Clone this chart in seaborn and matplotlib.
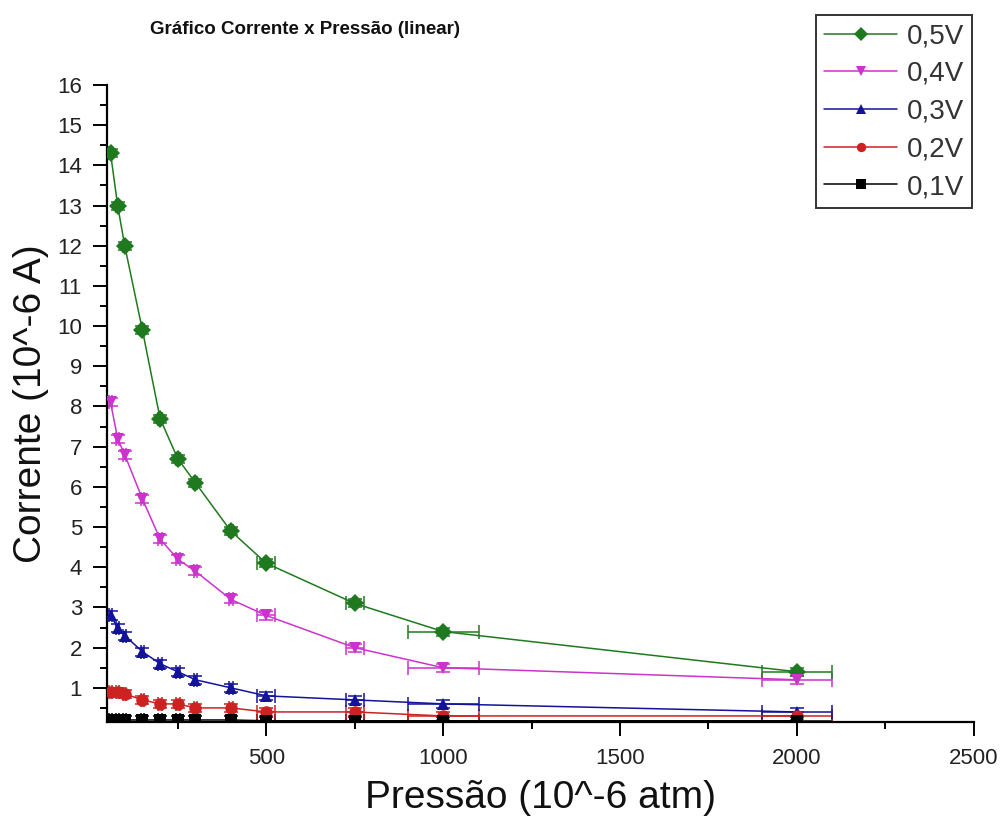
import numpy as np
import pandas as pd
import matplotlib
matplotlib.use("Agg")
import matplotlib.pyplot as plt
from matplotlib.ticker import MultipleLocator
import seaborn as sns

# ---- data ----
pressure = [60, 80, 100, 150, 200, 250, 300, 400, 500, 750, 1000, 2000]
pressure_err = [5, 5, 5, 5, 5, 5, 5, 5, 25, 25, 100, 100]
i_05 = [14.3, 13.0, 12.0, 9.9, 7.7, 6.7, 6.1, 4.9, 4.1, 3.1, 2.4, 1.4]
i_04 = [8.1, 7.2, 6.8, 5.7, 4.7, 4.2, 3.9, 3.2, 2.8, 2.0, 1.5, 1.2]
i_03 = [2.8, 2.5, 2.3, 1.9, 1.6, 1.4, 1.2, 1.0, 0.8, 0.7, 0.6, 0.4]
i_02 = [0.9, 0.9, 0.85, 0.7, 0.6, 0.6, 0.5, 0.5, 0.4, 0.4, 0.3, 0.3]
i_01 = [0.2, 0.2, 0.2, 0.2, 0.2, 0.2, 0.2, 0.2, 0.18, 0.18, 0.18, 0.18]
current_err = 0.1
series_labels = ["0,5V", "0,4V", "0,3V", "0,2V", "0,1V"]
series_values = [i_05, i_04, i_03, i_02, i_01]
x_ticks = [500, 1000, 1500, 2000, 2500]
y_ticks = list(range(1, 17))

colors = {"0,5V": "#1f7a1f", "0,4V": "#cc33cc", "0,3V": "#12129a",
          "0,2V": "#cc2222", "0,1V": "#000000"}
markers = {"0,5V": "D", "0,4V": "v", "0,3V": "^", "0,2V": "o", "0,1V": "s"}

df = pd.concat([
    pd.DataFrame({"Pressao": pressure, "Corrente": vals, "Tensao": lab})
    for lab, vals in zip(series_labels, series_values)
], ignore_index=True)

sns.set_theme(style="ticks")
plt.rcParams["font.family"] = ["Liberation Sans", "DejaVu Sans"]

fig = plt.figure(figsize=(10.05, 8.21), dpi=100)
ax = fig.add_axes([0.1065, 0.1206, 0.8625, 0.7759])

# draw in reverse so that 0.5V is on top
for lab in series_labels[::-1]:
    sub = df[df["Tensao"] == lab]
    ax.errorbar(sub["Pressao"], sub["Corrente"], xerr=pressure_err, yerr=current_err,
                fmt="none", ecolor=colors[lab], elinewidth=1.1, capsize=5,
                capthick=1.1, zorder=2)

sns.lineplot(data=df, x="Pressao", y="Corrente", hue="Tensao", style="Tensao",
             hue_order=series_labels, style_order=series_labels,
             palette=colors, markers=markers, dashes=False, sort=False,
             markersize=9, markeredgewidth=0, linewidth=1.1, ax=ax, zorder=3)

ax.set_xlim(50, 2500)
ax.set_ylim(0.15, 16)
ax.set_xticks(x_ticks)
ax.set_yticks(y_ticks)
ax.xaxis.set_minor_locator(MultipleLocator(250))
ax.yaxis.set_minor_locator(MultipleLocator(0.5))
ax.tick_params(axis="both", which="major", direction="out", length=10, width=1.4,
               labelsize=16, color="black", labelcolor="#222222")
ax.tick_params(axis="both", which="minor", direction="out", length=5, width=1.4,
               color="black")
ax.tick_params(axis="x", which="major", pad=9)
ax.tick_params(axis="y", which="major", pad=8)
for s in ["top", "right"]:
    ax.spines[s].set_visible(False)
for s in ["left", "bottom"]:
    ax.spines[s].set_linewidth(1.6)
    ax.spines[s].set_color("black")

ax.set_xlabel("Pressão (10^-6 atm)", fontsize=28, labelpad=8, color="#111111")
ax.set_ylabel("Corrente (10^-6 A)", fontsize=28, labelpad=6, color="#111111")

fig.text(0.303, 0.964, "Gráfico Corrente x Pressão (linear)", fontsize=13.5,
         fontweight="bold", ha="center", va="center", color="#111111")

# legend
handles, labels = ax.get_legend_handles_labels()
ax.get_legend().remove()
hmap = dict(zip(labels, handles))
leg = fig.legend([hmap[l] for l in series_labels], series_labels,
                 loc="upper right", bbox_to_anchor=(972 / 1005, 1 - 15 / 821),
                 fontsize=20, frameon=True, fancybox=False, handlelength=2.6,
                 handletextpad=0.35, labelspacing=0.42, borderpad=0.3,
                 borderaxespad=0, markerscale=0.75)
leg.get_frame().set_edgecolor("black")
leg.get_frame().set_linewidth(1.4)
for t in leg.get_texts():
    t.set_color("#333333")

fig.savefig("out.png", dpi=100)
